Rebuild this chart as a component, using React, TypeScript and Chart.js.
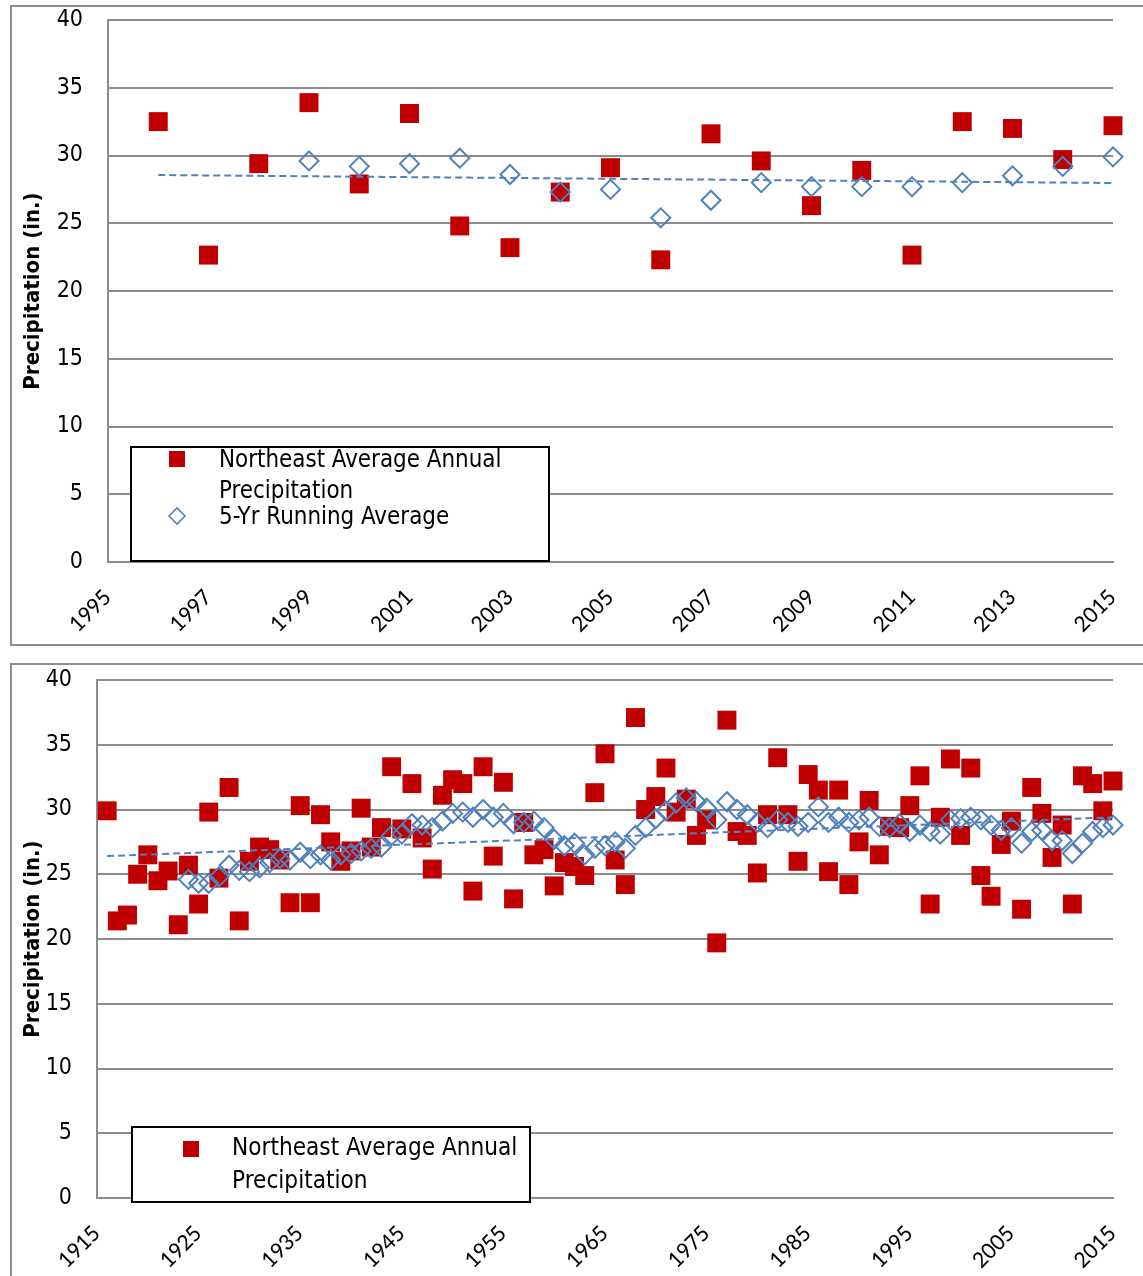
import React, { useEffect, useRef } from "react";
import { Chart, registerables } from "chart.js";

Chart.register(...registerables);

// ---------------- Top chart (1996-2015) ----------------
const topYears = [1996, 1997, 1998, 1999, 2000, 2001, 2002, 2003, 2004, 2005, 2006, 2007, 2008, 2009, 2010, 2011, 2012, 2013, 2014, 2015];
const topPrecip = [32.5, 22.65, 29.4, 33.9, 27.9, 33.1, 24.8, 23.2, 27.3, 29.1, 22.3, 31.6, 29.6, 26.3, 28.9, 22.65, 32.5, 32.0, 29.7, 32.2];
const topAvgYears = [1999, 2000, 2001, 2002, 2003, 2004, 2005, 2006, 2007, 2008, 2009, 2010, 2011, 2012, 2013, 2014, 2015];
const topAvg = [29.6, 29.2, 29.4, 29.8, 28.6, 27.3, 27.5, 25.4, 26.7, 28.0, 27.7, 27.7, 27.7, 28.0, 28.5, 29.2, 29.9];
const topTrendYears = [1996, 2015];
const topTrend = [28.56, 27.97];
const topXTicks = [1995, 1997, 1999, 2001, 2003, 2005, 2007, 2009, 2011, 2013, 2015];

// ---------------- Bottom chart (1916-2015) ----------------
const bottomYears = [
  1916, 1917, 1918, 1919, 1920, 1921, 1922, 1923, 1924, 1925,
  1926, 1927, 1928, 1929, 1930, 1931, 1932, 1933, 1934, 1935,
  1936, 1937, 1938, 1939, 1940, 1941, 1942, 1943, 1944, 1945,
  1946, 1947, 1948, 1949, 1950, 1951, 1952, 1953, 1954, 1955,
  1956, 1957, 1958, 1959, 1960, 1961, 1962, 1963, 1964, 1965,
  1966, 1967, 1968, 1969, 1970, 1971, 1972, 1973, 1974, 1975,
  1976, 1977, 1978, 1979, 1980, 1981, 1982, 1983, 1984, 1985,
  1986, 1987, 1988, 1989, 1990, 1991, 1992, 1993, 1994, 1995,
  1996, 1997, 1998, 1999, 2000, 2001, 2002, 2003, 2004, 2005,
  2006, 2007, 2008, 2009, 2010, 2011, 2012, 2013, 2014, 2015,
];
const bottomPrecip = [
  29.9, 21.4, 21.85, 25.0, 26.5, 24.5, 25.25, 21.1, 25.7, 22.7,
  29.8, 24.7, 31.7, 21.4, 26.0, 27.1, 26.9, 26.1, 22.8, 30.3,
  22.8, 29.6, 27.5, 26.0, 26.8, 30.1, 27.1, 28.6, 33.3, 28.5,
  32.0, 27.8, 25.4, 31.1, 32.3, 32.0, 23.7, 33.3, 26.4, 32.1,
  23.1, 29.0, 26.5, 26.9, 24.1, 25.9, 25.6, 24.9, 31.3, 34.3,
  26.1, 24.2, 37.1, 30.0, 31.0, 33.2, 29.8, 30.8, 28.0, 29.2,
  19.7, 36.9, 28.3, 28.0, 25.1, 29.6, 34.0, 29.6, 26.0, 32.7,
  31.5, 25.2, 31.5, 24.2, 27.5, 30.7, 26.5, 28.7, 28.6, 30.3,
  32.6, 22.7, 29.4, 33.9, 28.0, 33.2, 24.9, 23.3, 27.3, 29.1,
  22.3, 31.7, 29.7, 26.3, 28.8, 22.7, 32.6, 32.0, 29.9, 32.2,
];
const bottomAvgYears = [
  1924, 1925, 1926, 1927, 1928, 1929, 1930, 1931, 1932, 1933,
  1934, 1935, 1936, 1937, 1938, 1939, 1940, 1941, 1942, 1943,
  1944, 1945, 1946, 1947, 1948, 1949, 1950, 1951, 1952, 1953,
  1954, 1955, 1956, 1957, 1958, 1959, 1960, 1961, 1962, 1963,
  1964, 1965, 1966, 1967, 1968, 1969, 1970, 1971, 1972, 1973,
  1974, 1975, 1976, 1977, 1978, 1979, 1980, 1981, 1982, 1983,
  1984, 1985, 1986, 1987, 1988, 1989, 1990, 1991, 1992, 1993,
  1994, 1995, 1996, 1997, 1998, 1999, 2000, 2001, 2002, 2003,
  2004, 2005, 2006, 2007, 2008, 2009, 2010, 2011, 2012, 2013,
  2014, 2015,
];
const bottomAvg = [
  24.6, 24.3, 24.3, 24.8, 25.7, 25.3, 25.2, 25.5, 25.9, 26.2,
  26.1, 26.7, 26.2, 26.5, 26.1, 26.5, 26.6, 26.8, 27.0, 27.1,
  28.0, 28.1, 28.9, 28.8, 28.6, 29.1, 29.7, 29.8, 29.4, 30.0,
  29.4, 29.7, 28.9, 29.0, 29.1, 28.6, 27.7, 27.2, 27.4, 26.5,
  27.0, 27.2, 27.5, 27.0, 28.0, 28.6, 29.3, 29.9, 30.5, 30.9,
  30.6, 30.1, 29.2, 30.6, 30.0, 29.6, 29.0, 28.6, 29.2, 29.0,
  28.7, 29.0, 30.2, 29.0, 29.4, 29.0, 29.2, 29.4, 28.7, 28.6,
  28.9, 28.3, 28.8, 28.3, 28.1, 29.2, 29.3, 29.4, 29.2, 28.8,
  28.4, 28.6, 27.4, 28.3, 28.4, 27.6, 27.6, 26.6, 27.4, 28.3,
  28.6, 28.8,
];
const bottomTrendYears = [1916, 2015];
const bottomTrend = [26.4, 29.4];
const bottomXTicks = [1915, 1925, 1935, 1945, 1955, 1965, 1975, 1985, 1995, 2005, 2015];

const yTicks = [0, 5, 10, 15, 20, 25, 30, 35, 40];

const seriesLabel = "Northeast Average Annual Precipitation";
const avgLabel = "5-Yr Running Average";
const yTitle = "Precipitation (in.)";

// ---------------- styling ----------------
const RED = "#c00000";
const BLUE = "#4f81bd";
const GRID = "#8c8c8c";
const NARROW = "'Liberation Sans Narrow', 'DejaVu Sans Condensed', 'DejaVu Sans', sans-serif";
const CAL = "Carlito, Lato, 'Open Sans', sans-serif";

const pairs = (xs: number[], ys: number[]) => xs.map((x, i) => ({ x, y: ys[i] }));

function wrap(ctx: CanvasRenderingContext2D, text: string, maxW: number, sx: number): string[] {
  const words = text.split(" ");
  const lines: string[] = [];
  let cur = "";
  for (const w of words) {
    const t = cur ? cur + " " + w : w;
    if (ctx.measureText(t).width * sx > maxW && cur) {
      lines.push(cur);
      cur = w;
    } else cur = t;
  }
  if (cur) lines.push(cur);
  return lines;
}

const boxLegend = {
  id: "boxLegend",
  afterDraw(chart: any, _args: any, opts: any) {
    if (!opts || !opts.box) return;
    const ctx: CanvasRenderingContext2D = chart.ctx;
    const { box, items, textX, markerX, lineGap, font, wrapWidth, scaleX } = opts;
    ctx.save();
    ctx.fillStyle = "#ffffff";
    ctx.fillRect(box.x, box.y, box.w, box.h);
    ctx.lineWidth = 2;
    ctx.strokeStyle = "#000000";
    ctx.strokeRect(box.x, box.y, box.w, box.h);
    ctx.font = font;
    ctx.textBaseline = "alphabetic";
    ctx.textAlign = "left";
    items.forEach((it: any) => {
      const ds = chart.data.datasets[it.dataset];
      if (ds.pointStyle === "rect") {
        ctx.fillStyle = ds.backgroundColor;
        ctx.fillRect(markerX - it.size / 2, it.markerY - it.size / 2, it.size, it.size);
      } else {
        ctx.strokeStyle = ds.borderColor;
        ctx.lineWidth = 1.6;
        ctx.beginPath();
        const r = it.size / 2;
        ctx.moveTo(markerX - r, it.markerY);
        ctx.lineTo(markerX, it.markerY - r);
        ctx.lineTo(markerX + r, it.markerY);
        ctx.lineTo(markerX, it.markerY + r);
        ctx.closePath();
        ctx.stroke();
      }
      ctx.fillStyle = "#000000";
      const lines = wrap(ctx, ds.label, wrapWidth, scaleX);
      lines.forEach((ln, i) => {
        ctx.save();
        ctx.translate(textX, it.baseline + i * lineGap);
        ctx.scale(scaleX, 1);
        ctx.fillText(ln, 0, 0);
        ctx.restore();
      });
    });
    ctx.restore();
  },
};

type Cfg = {
  width: number;
  height: number;
  xMin: number;
  xMax: number;
  xTicks: number[];
  precip: { x: number; y: number }[];
  avg: { x: number; y: number }[];
  trend: { x: number; y: number }[];
  yAxisWidth: number;
  xAxisHeight: number;
  padTop: number;
  padRight: number;
  legend: any;
};

function makeChart(canvas: HTMLCanvasElement, c: Cfg) {
  return new Chart(canvas, {
    type: "scatter",
    data: {
      datasets: [
        {
          type: "line",
          label: "trend",
          data: c.trend,
          borderColor: BLUE,
          borderWidth: 2,
          borderDash: [7, 4],
          pointRadius: 0,
          fill: false,
          order: 0,
        } as any,
        {
          label: avgLabel,
          data: c.avg,
          pointStyle: "rectRot",
          pointRadius: 9.5,
          pointHoverRadius: 9.5,
          borderColor: BLUE,
          borderWidth: 2,
          backgroundColor: "rgba(0,0,0,0)",
          clip: false,
          order: 1,
        } as any,
        {
          label: seriesLabel,
          data: c.precip,
          pointStyle: "rect",
          pointRadius: 13.4,
          pointHoverRadius: 13.4,
          backgroundColor: RED,
          borderColor: RED,
          borderWidth: 0,
          clip: false,
          order: 2,
        } as any,
      ],
    },
    options: {
      animation: false,
      responsive: false,
      events: [],
      layout: { autoPadding: false, padding: { left: 0, top: c.padTop, right: c.padRight, bottom: 0 } },
      plugins: {
        legend: { display: false },
        tooltip: { enabled: false },
        boxLegend: c.legend,
      } as any,
      scales: {
        x: {
          type: "linear",
          min: c.xMin,
          max: c.xMax,
          afterBuildTicks: (s: any) => {
            s.ticks = c.xTicks.map((v) => ({ value: v }));
          },
          afterFit: (s: any) => {
            s.height = c.xAxisHeight;
          },
          grid: { display: false, drawTicks: true, tickLength: 24 },
          border: { display: true, color: GRID, width: 2 },
          ticks: {
            autoSkip: false,
            maxRotation: 45,
            minRotation: 45,
            padding: 0,
            color: "#000",
            font: { family: CAL, size: 24, lineHeight: 1 },
            callback: (v: any) => String(v),
          },
        },
        y: {
          type: "linear",
          min: 0,
          max: 40,
          afterBuildTicks: (s: any) => {
            s.ticks = yTicks.map((v) => ({ value: v }));
          },
          afterFit: (s: any) => {
            s.width = c.yAxisWidth;
          },
          grid: { color: GRID, lineWidth: 2, drawTicks: true, tickLength: 25, tickColor: "rgba(0,0,0,0)" },
          border: { display: true, color: GRID, width: 2 },
          ticks: {
            padding: 0,
            color: "#000",
            font: { family: NARROW, size: 23, lineHeight: 1 },
            callback: (v: any) => String(v),
          },
          title: {
            display: true,
            text: yTitle,
            color: "#000",
            font: { family: NARROW, size: 22, weight: "bold" },
            padding: { top: 8, bottom: 0 },
          },
        },
      },
    },
    plugins: [boxLegend as any],
  } as any);
}

function ChartBox(props: { cfg: Cfg; left: number; top: number; frameW: number; frameH: number }) {
  const ref = useRef<HTMLCanvasElement | null>(null);
  useEffect(() => {
    if (!ref.current) return;
    const ch = makeChart(ref.current, props.cfg);
    return () => ch.destroy();
  }, []);
  return (
    <div
      style={{
        position: "absolute",
        left: props.left,
        top: props.top,
        width: props.frameW,
        height: props.frameH,
        border: "2px solid " + GRID,
        boxSizing: "border-box",
        background: "#fff",
      }}
    >
      <canvas
        ref={ref}
        width={props.cfg.width}
        height={props.cfg.height}
        style={{ display: "block", width: props.cfg.width, height: props.cfg.height }}
      />
    </div>
  );
}

const topCfg: Cfg = {
  width: 1131,
  height: 636,
  xMin: 1995,
  xMax: 2015,
  xTicks: topXTicks,
  precip: pairs(topYears, topPrecip),
  avg: pairs(topAvgYears, topAvg),
  trend: pairs(topTrendYears, topTrend),
  yAxisWidth: 96,
  xAxisHeight: 81,
  padTop: 13,
  padRight: 30,
  legend: {
    box: { x: 119, y: 440, w: 418, h: 114 },
    textX: 207,
    markerX: 165,
    lineGap: 31,
    wrapWidth: 300,
    scaleX: 0.955,
    font: "25px " + NARROW,
    items: [
      { dataset: 2, markerY: 452, baseline: 460, size: 16 },
      { dataset: 1, markerY: 509, baseline: 517, size: 16 },
    ],
  },
};

const bottomCfg: Cfg = {
  width: 1131,
  height: 611,
  xMin: 1915,
  xMax: 2015,
  xTicks: bottomXTicks,
  precip: pairs(bottomYears, bottomPrecip),
  avg: pairs(bottomAvgYears, bottomAvg),
  trend: pairs(bottomTrendYears, bottomTrend),
  yAxisWidth: 85,
  xAxisHeight: 78,
  padTop: 15,
  padRight: 30,
  legend: {
    box: { x: 120, y: 462, w: 398, h: 75 },
    textX: 220,
    markerX: 179,
    lineGap: 33,
    wrapWidth: 300,
    scaleX: 0.965,
    font: "25px " + NARROW,
    items: [{ dataset: 2, markerY: 484, baseline: 490, size: 16 }],
  },
};

export default function App() {
  return (
    <div
      style={{
        position: "absolute",
        left: 0,
        top: 0,
        width: 1143,
        height: 1276,
        overflow: "hidden",
        background: "#fff",
      }}
    >
      <ChartBox cfg={topCfg} left={10} top={5} frameW={1160} frameH={641} />
      <ChartBox cfg={bottomCfg} left={10} top={663} frameW={1160} frameH={700} />
    </div>
  );
}
